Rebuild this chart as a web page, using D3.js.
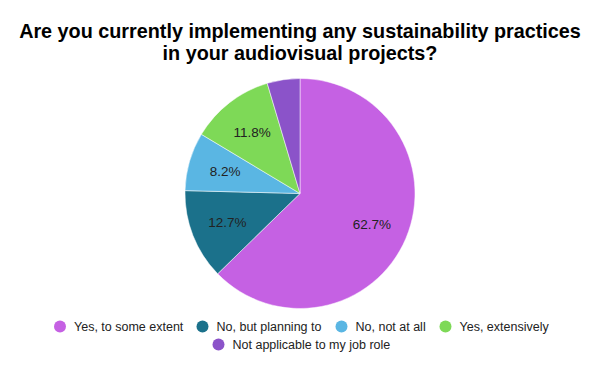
<!DOCTYPE html>
<html>
<head>
<meta charset="utf-8">
<script src="https://cdn.jsdelivr.net/npm/d3@7"></script>
<style>
  body { margin: 0; background: #fff; }
  text { font-family: "Liberation Sans", Arial, sans-serif; }
</style>
</head>
<body>
<div id="chart"></div>
<script>
const categories = ['Yes, to some extent', 'No, but planning to', 'No, not at all', 'Yes, extensively', 'Not applicable to my job role'];
const values = [62.7, 12.7, 8.2, 11.8, 4.6];
const colours = ['#c561e3', '#1b718b', '#5ab6e3', '#7ed957', '#8b53c9'];
const titleLines = ['Are you currently implementing any sustainability practices', 'in your audiovisual projects?'];

const w = 600;
const h = 371;
const cx = 300, cy = 193.5, r = 115;

const data = categories.map((c, i) => ({ name: c, value: values[i], colour: colours[i] }));

const svg = d3.select('#chart')
  .append('svg')
  .attr('width', w)
  .attr('height', h);

// Title
svg.append('g')
  .selectAll('text')
  .data(titleLines)
  .enter()
  .append('text')
  .attr('x', w / 2)
  .attr('y', (d, i) => 38 + i * 22)
  .attr('text-anchor', 'middle')
  .attr('font-size', 19.8)
  .attr('font-weight', 'bold')
  .attr('fill', '#000')
  .text(d => d);

// Pie
const pie = d3.pie().value(d => d.value).sort(null);
const arc = d3.arc().innerRadius(0).outerRadius(r);
const labelArc = d3.arc().innerRadius(78).outerRadius(78);

const g = svg.append('g').attr('transform', `translate(${cx}, ${cy})`);

const slices = g.selectAll('.slice')
  .data(pie(data))
  .enter()
  .append('g')
  .attr('class', 'slice');

slices.append('path')
  .attr('d', arc)
  .attr('fill', d => d.data.colour)
  .attr('stroke', '#fff')
  .attr('stroke-width', 0.5);

// Labels (small slices are left unlabeled)
slices.filter(d => d.data.value >= 5)
  .append('text')
  .attr('transform', d => `translate(${labelArc.centroid(d)})`)
  .attr('text-anchor', 'middle')
  .attr('dy', '0.35em')
  .attr('font-size', 13.5)
  .attr('fill', '#222')
  .text(d => `${d.data.value.toFixed(1)}%`);

// Legend
const legendPos = [
  { x: 60, y: 326.5 },
  { x: 202.5, y: 326.5 },
  { x: 341.5, y: 326.5 },
  { x: 445.5, y: 326.5 },
  { x: 218.5, y: 344.5 }
];

const legend = svg.append('g')
  .selectAll('.legend-item')
  .data(data)
  .enter()
  .append('g')
  .attr('class', 'legend-item')
  .attr('transform', (d, i) => `translate(${legendPos[i].x}, ${legendPos[i].y})`);

legend.append('circle')
  .attr('r', 6)
  .attr('fill', d => d.colour);

legend.append('text')
  .attr('x', 14)
  .attr('dy', '0.35em')
  .attr('font-size', 12.5)
  .attr('fill', '#222')
  .text(d => d.name);
</script>
</body>
</html>
